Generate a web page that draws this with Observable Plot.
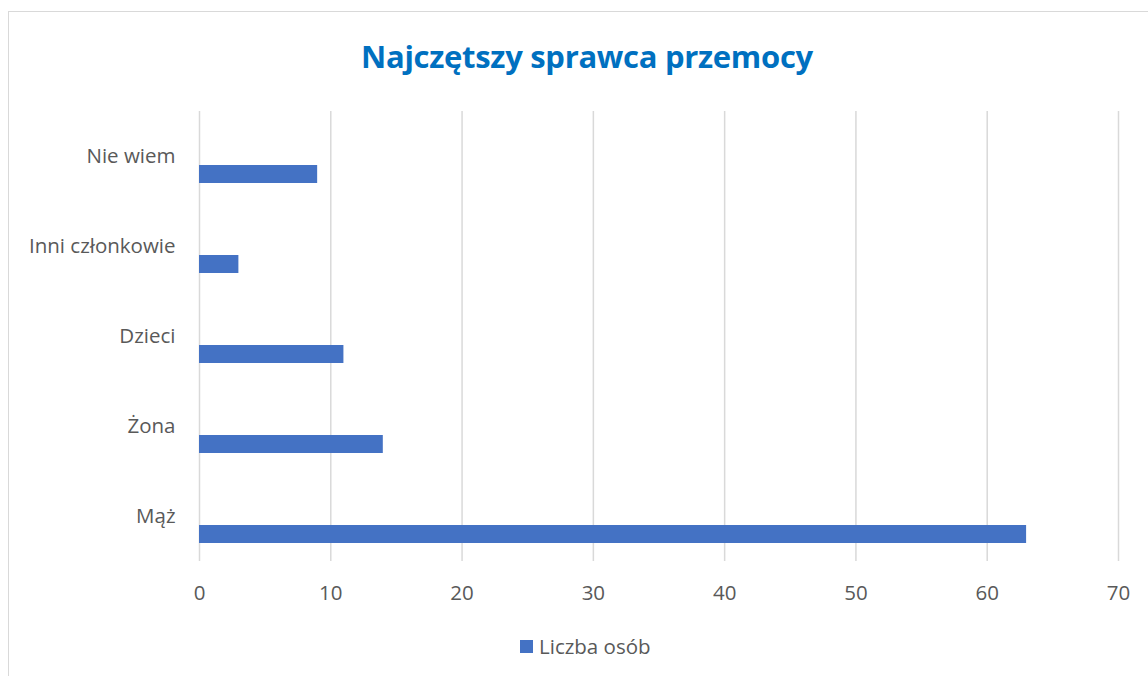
<!DOCTYPE html>
<html>
<head>
<meta charset="utf-8">
<script src="https://cdn.jsdelivr.net/npm/d3@7"></script>
<script src="https://cdn.jsdelivr.net/npm/@observablehq/plot@0.6"></script>
<style>
  html, body { margin: 0; padding: 0; background: #fff; width: 1148px; height: 676px; overflow: hidden; }
  body { position: relative; font-family: "Open Sans", sans-serif; }
  #frame { position: absolute; left: 8px; top: 11px; width: 1200px; height: 700px; border-left: 1px solid #d9d9d9; border-top: 1px solid #d9d9d9; }
  #title { position: absolute; left: 0; width: 1174px; top: 35px; text-align: center; font-family: "Open Sans", sans-serif; font-weight: 700; font-size: 31px; color: #0070C0; letter-spacing: -0.3px; }
  #chart { position: absolute; left: 0; top: 90px; }
  #legend { position: absolute; top: 632px; left: 520px; display: flex; align-items: center; font-size: 20.5px; color: #595959; }
  #legend .sw { width: 13px; height: 13px; background: #4472C4; margin-right: 6px; }
</style>
</head>
<body>
<div id="frame"></div>
<div id="title">Najczętszy sprawca przemocy</div>
<div id="chart"></div>
<div id="legend"><span class="sw"></span><span id="legendLabel"></span></div>
<script>
const categories = ["Nie wiem", "Inni członkowie", "Dzieci", "Żona", "Mąż"];
const values = [9, 3, 11, 14, 63];
const xTicks = [0, 10, 20, 30, 40, 50, 60, 70];
const seriesName = "Liczba osób";

const data = categories.map((c, i) => ({category: c, value: values[i]}));

document.getElementById("legendLabel").textContent = seriesName;

const chart = Plot.plot({
  width: 1148,
  height: 530,
  marginTop: 21,
  marginBottom: 59,
  marginLeft: 199,
  marginRight: 30,
  style: { fontFamily: "Open Sans, sans-serif", fontSize: "20.5px", color: "#595959", background: "transparent", overflow: "visible" },
  x: { domain: [0, 70], ticks: xTicks, tickSize: 0, tickPadding: 24, label: null },
  y: { domain: categories, padding: 0, tickSize: 0, tickPadding: 24, label: null },
  marks: [
    Plot.gridX(xTicks, { stroke: "#d9d9d9", strokeOpacity: 1, strokeWidth: 1.5 }),
    Plot.barX(data, { x: "value", y: "category", fill: "#4472C4", insetTop: 54, insetBottom: 18 })
  ]
});
document.getElementById("chart").appendChild(chart);
</script>
</body>
</html>
